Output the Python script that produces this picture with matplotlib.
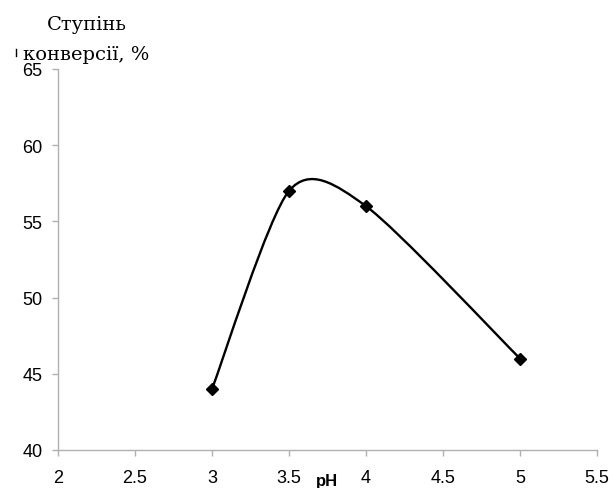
import matplotlib.pyplot as plt
from matplotlib.path import Path
from matplotlib.patches import PathPatch
from matplotlib.lines import Line2D
import numpy as np

# data
ph = [3.0, 3.5, 4.0, 5.0]
conversion = [44, 57, 56, 46]
x_ticks = [2, 2.5, 3, 3.5, 4, 4.5, 5, 5.5]
y_ticks = [40, 45, 50, 55, 60, 65]

fig = plt.figure(figsize=(6.13, 4.89), dpi=100)
ax = fig.add_axes([58 / 613, 1 - 451 / 489, 539 / 613, 381 / 489])

# Excel-like smoothed line: Catmull-Rom segments as cubic Beziers
tension = 0.8 / 6
pts = np.column_stack([ph, conversion]).astype(float)
ext = np.vstack([pts[0], pts, pts[-1]])
verts = [tuple(pts[0])]
codes = [Path.MOVETO]
for i in range(len(pts) - 1):
    p0, p1, p2, p3 = ext[i], ext[i + 1], ext[i + 2], ext[i + 3]
    c1 = p1 + (p2 - p0) * tension
    c2 = p2 - (p3 - p1) * tension
    verts += [tuple(c1), tuple(c2), tuple(p2)]
    codes += [Path.CURVE4] * 3
ax.add_patch(PathPatch(Path(verts, codes), facecolor='none', edgecolor='black', lw=1.7))
ax.plot(ph, conversion, linestyle='none', marker='D', color='black', markersize=6.5)

ax.set_xlim(2, 5.5)
ax.set_ylim(40, 65)
ax.set_xticks(x_ticks)
ax.set_xticklabels([f'{t:g}' for t in x_ticks], fontfamily='Liberation Sans', fontsize=13)
ax.set_yticks(y_ticks)
ax.set_yticklabels([str(t) for t in y_ticks], fontfamily='Liberation Sans', fontsize=13)

for s in ['top', 'right']:
    ax.spines[s].set_visible(False)
for s in ['left', 'bottom']:
    ax.spines[s].set_color('#b0b0b0')
    ax.spines[s].set_linewidth(1.0)
ax.tick_params(axis='both', colors='#b0b0b0', labelcolor='black', length=4, width=1)
ax.tick_params(axis='x', pad=10)
ax.tick_params(axis='y', pad=7)

fig.text(327 / 613, 1 - 482 / 489, 'pH', ha='center', va='center',
         fontfamily='Liberation Sans', fontweight='bold', fontsize=12)
fig.text(87 / 613, 1 - 30 / 489, 'Ступінь', ha='center', va='baseline',
         fontfamily='DejaVu Serif', fontsize=14)
fig.text(86 / 613, 1 - 60 / 489, 'конверсії, %', ha='center', va='baseline',
         fontfamily='DejaVu Serif', fontsize=14)
fig.add_artist(Line2D([16 / 613, 16 / 613], [1 - 50 / 489, 1 - 57 / 489],
                      transform=fig.transFigure, color='black', lw=1))

fig.savefig('out.png', dpi=100)
